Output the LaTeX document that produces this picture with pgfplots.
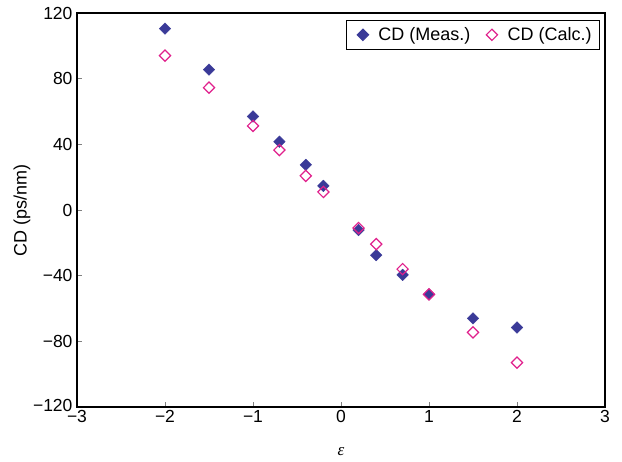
\documentclass[border=0pt]{standalone}
\usepackage{fontspec}
\setmainfont{Liberation Sans}
\newfontfamily\serifit{Liberation Serif}
\usepackage{pgfplots}
\pgfplotsset{compat=1.18}
\definecolor{meas}{HTML}{3A3A98}
\definecolor{calc}{HTML}{E0208C}
\begin{document}
\begin{tikzpicture}
\begin{axis}[
  width=528pt, height=394pt, scale only axis,
  xmin=-3, xmax=3, ymin=-120, ymax=120,
  xtick={-3,-2,...,3}, ytick={-120,-80,...,120},
  xticklabels={−3,−2,−1,0,1,2,3},
  yticklabels={\raisebox{4pt}{−120},−80,−40,0,40,80,120},
  tick align=inside, xtick pos=bottom, ytick pos=left,
  major tick length=5pt,
  tick style={gray, line width=0.7pt},
  axis line style={line width=1.2pt},
  /pgf/number format/assume math mode=true,
  ticklabel style={font=\fontsize{17.5}{20}\selectfont},
  yticklabel style={xshift=-1pt},
  xlabel={\serifit\itshape\fontsize{17}{19}\selectfont ε},
  ylabel={\fontsize{18}{20}\selectfont CD (ps/nm)},
  xlabel style={at={(axis description cs:0.5,-0.112)}, anchor=center},
  ylabel style={at={(axis description cs:-0.104,0.5)}, anchor=center},
  legend style={at={(axis description cs:0.9905,0.982)}, anchor=north east, draw=black, line width=0.9pt,
    font=\fontsize{18}{20}\selectfont, legend columns=2,
    inner xsep=6pt, inner ysep=5pt,
    /tikz/every even column/.append style={column sep=9pt}},
  legend image code/.code={\path (0pt,0pt) (23pt,0pt); \draw[#1] plot coordinates {(10pt,0pt)};},
  legend cell align=left,
]
\addplot[only marks, mark=diamond*, mark size=5.8pt, color=meas, fill=meas,
  mark options={xscale=1.333}] coordinates {
(-2,110.5) (-1.5,85.5) (-1,57) (-0.7,41.6) (-0.4,27.5) (-0.2,14.7)
(0.2,-12.2) (0.4,-27.5) (0.7,-39.5) (1.0,-51.4) (1.5,-66) (2.0,-71.6)};
\addlegendentry{CD (Meas.)}
\addplot[only marks, mark=diamond, mark size=5.6pt, color=calc, line width=1.2pt,
  mark options={xscale=1.333}] coordinates {
(-2,94) (-1.5,74.5) (-1,51.2) (-0.7,36.5) (-0.4,20.8) (-0.2,11)
(0.2,-11) (0.4,-20.8) (0.7,-36) (1.0,-51.4) (1.5,-74.5) (2.0,-93)};
\addlegendentry{CD (Calc.)}
\end{axis}
\pgfresetboundingbox
\path[use as bounding box] ([xshift=-77pt,yshift=-54pt]current axis.south west) rectangle ([xshift=17pt,yshift=13pt]current axis.north east);
\end{tikzpicture}
\end{document}
